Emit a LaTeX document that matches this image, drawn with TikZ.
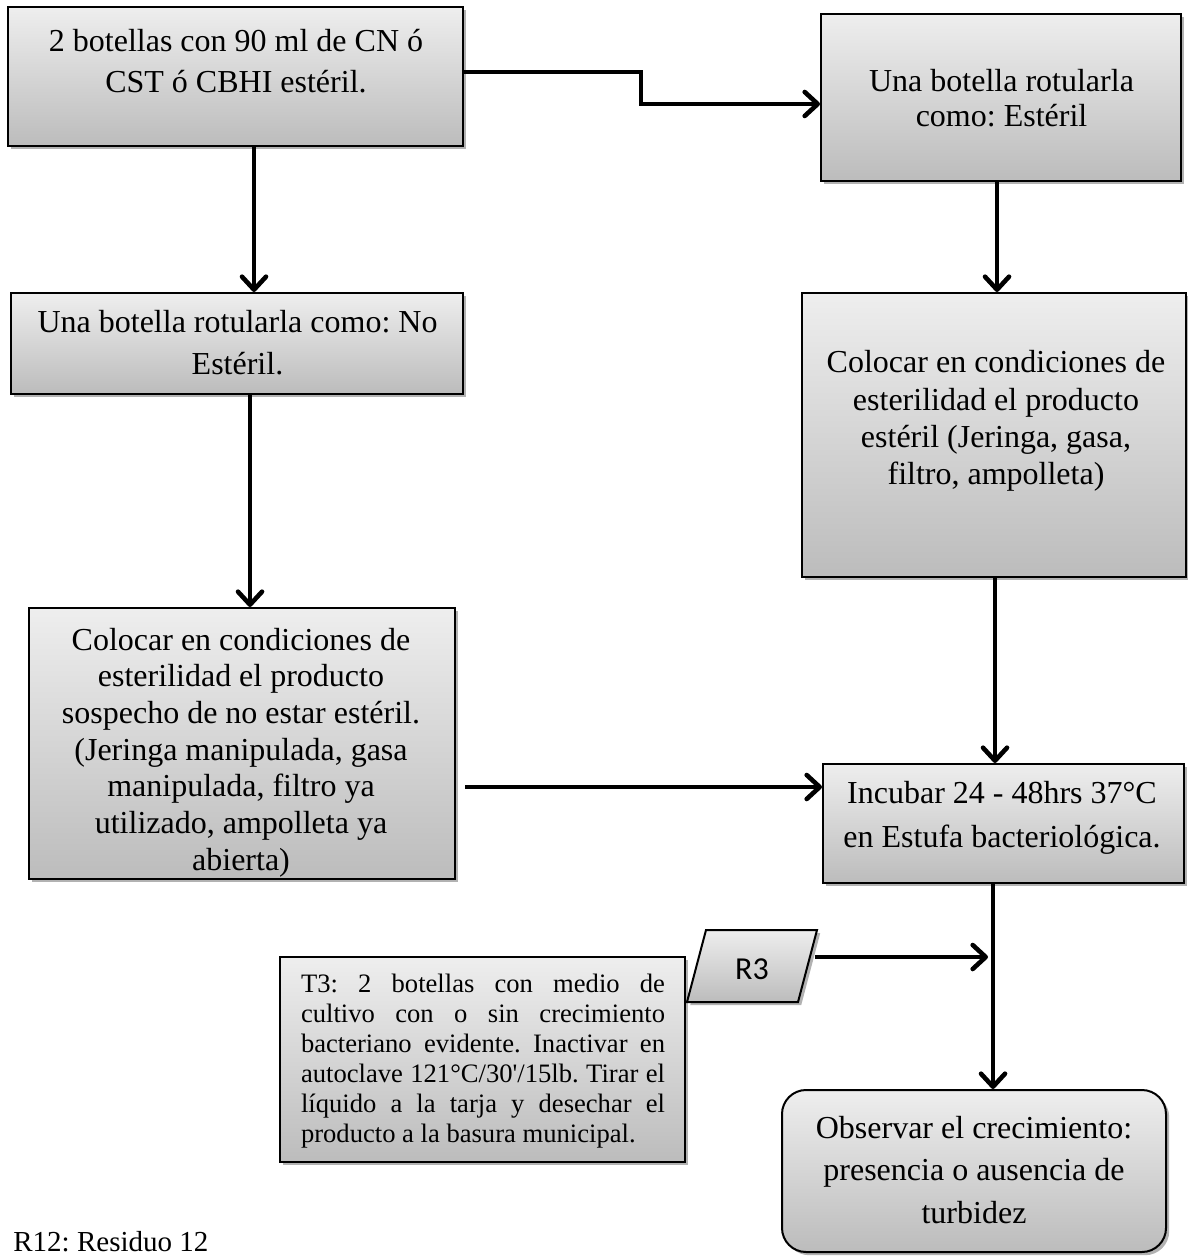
\documentclass[tikz,border=0pt]{standalone}
\usepackage{fontspec}
\setmainfont{Liberation Serif}
\newfontfamily\labelsans{Carlito}
\usetikzlibrary{arrows.meta,shadows,fit}
\definecolor{boxtop}{RGB}{238,238,238}
\definecolor{boxbot}{RGB}{188,188,188}
\frenchspacing
\begin{document}
\begin{tikzpicture}[x=0.5pt,y=-0.5pt,
  box/.style={draw=black,line width=1pt,top color=boxtop,bottom color=boxbot,
    drop shadow={shadow xshift=1.6pt,shadow yshift=-1.6pt,opacity=0.3,fill=black},
    inner sep=0pt},
  txt/.style={align=center,inner sep=0pt,font=\fontsize{16}{#1}\selectfont},
  arr/.style={line width=2.3pt,-{Straight Barb[length=6.5pt,width=12pt,round]}},
]
\useasboundingbox (0,0) rectangle (1187,1256);

% process boxes
\node[box,fit={(8,7) (463,146)}] (B1) {};
\node[txt=20.5pt] (B1t) at (236,64.3) {\strut 2 botellas con 90 ml de CN ó\\CST ó CBHI estéril.\strut};

\node[box,fit={(11,293) (463,394)}] (B3) {};
\node[txt=21pt] (B3t) at (237.5,345.6) {\strut Una botella rotularla como: No\\Estéril.\strut};

\node[box,fit={(29,608) (455,879)}] (B4) {};
\node[txt=18.33pt] (B4t) at (241,752.7) {\strut Colocar en condiciones de\\esterilidad el producto\\sospecho de no estar estéril.\\ (Jeringa manipulada, gasa\\manipulada, filtro ya\\utilizado, ampolleta ya\\abierta)\strut};

\node[box,fit={(821,14) (1181,181)}] (B2) {};
\node[txt=17.5pt] (B2t) at (1001.5,102.5) {\strut Una botella rotularla\\como: Estéril\strut};

\node[box,fit={(802,293) (1186,577)}] (B5) {};
\node[txt=18.67pt] (B5t) at (996,421.5) {\strut Colocar en condiciones de\\esterilidad el producto\\estéril (Jeringa, gasa,\\filtro, ampolleta)\strut};

\node[box,fit={(823,764) (1184,883)}] (B6) {};
\node[txt=22pt] (B6t) at (1002,816.2) {\strut Incubar 24 - 48hrs 37°C\\en Estufa bacteriológica.\strut};

\node[box,rounded corners=12pt,fit={(782,1090) (1166,1252)}] (B7) {};
\node[txt=21.25pt] (B7t) at (974,1172) {\strut Observar el crecimiento:\\presencia o ausencia de\\turbidez\strut};

% waste treatment note
\node[box,fit={(280,957) (685,1162)}] (T3) {};
\node[align=left,inner sep=0pt,font=\fontsize{13.3}{15}\selectfont] (T3t) at (483,1061) {%
  \makebox[182pt][s]{\strut T3: 2 botellas con medio de}\\
  \makebox[182pt][s]{cultivo con o sin crecimiento}\\
  \makebox[182pt][s]{bacteriano evidente. Inactivar en}\\
  \makebox[182pt][s]{autoclave 121°C/30\textquotesingle/15lb. Tirar el}\\
  \makebox[182pt][s]{líquido a la tarja y desechar el}\\
  producto a la basura municipal.\strut};

% residue tag
\path[box] (706,930) -- (817,930) -- (798,1002) -- (687,1002) -- cycle;
\node[anchor=base,inner sep=0pt,font=\labelsans\fontsize{16}{19}\selectfont] (R3) at (752,979) {R3};

\node[anchor=base west,inner sep=0pt,font=\fontsize{14.5}{17}\selectfont] (R12) at (13,1251) {R12: Residuo 12};

% connectors
\coordinate (k1) at (641,72);
\coordinate (k2) at (641,104);
\draw[arr] (B1.east |- k1) -- (k1) -- (k2) -- (k2 -| B2.west);

\coordinate (xA) at (254,0);
\draw[arr] (xA |- B1.south) -- (xA |- B3.north);
\coordinate (xB) at (250,0);
\draw[arr] (xB |- B3.south) -- (xB |- B4.north);
\coordinate (xC) at (997,0);
\draw[arr] (xC |- B2.south) -- (xC |- B5.north);
\coordinate (xD) at (995,0);
\draw[arr] (xD |- B5.south) -- (xD |- B6.north);
\coordinate (xE) at (993,0);
\draw[arr] (xE |- B6.south) -- (xE |- B7.north);

\coordinate (yF) at (465,787);
\draw[arr] (yF) -- (yF -| B6.west);

\coordinate (r3out) at (815,957);
\coordinate (r3in) at (988,957);
\draw[arr] (r3out) -- (r3in);
\end{tikzpicture}
\end{document}
